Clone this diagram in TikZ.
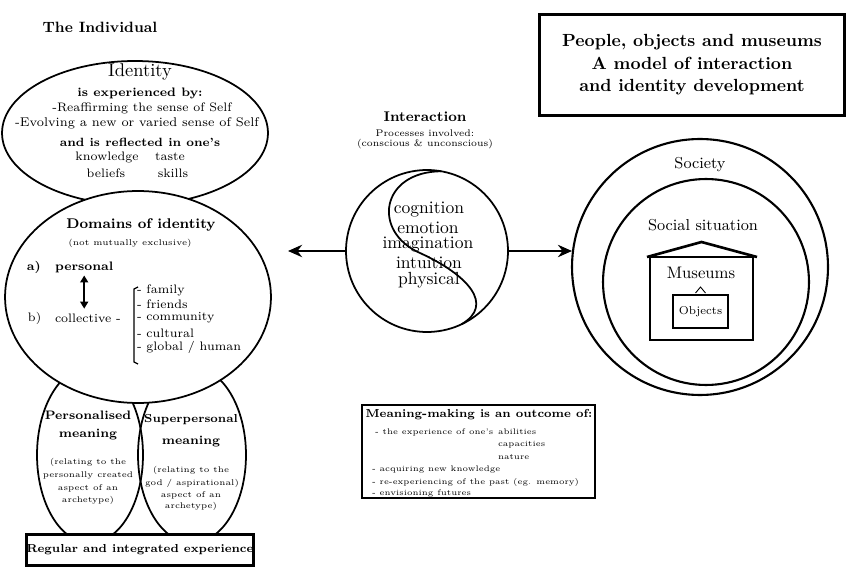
\documentclass[tikz,border=0pt]{standalone}
\usepackage{tikz}
\usetikzlibrary{shapes.geometric,arrows.meta,calc,positioning}
\newcommand{\sz}[1]{\fontsize{#1}{#1}\selectfont}

\begin{document}
\begin{tikzpicture}[x=0.02cm, y=-0.02cm,
	every node/.style={inner sep=0pt, outer sep=0pt},
	oval/.style={ellipse, draw, line width=1pt},
	framebox/.style={rectangle, draw, line width=1.2pt},
	bigarrow/.style={line width=1.6pt, -{Stealth[length=8pt,width=7pt]}},
	dblarrow/.style={line width=1pt, {Triangle[length=4pt,width=4.5pt]}-{Triangle[length=4pt,width=4.5pt]}},
	txt/.style={font=\sz{7}},
	btxt/.style={font=\sz{7}\bfseries},
	small/.style={font=\sz{4.7}},
	item/.style={font=\sz{4.6}, anchor=west},
	word/.style={font=\sz{10}}]
	\useasboundingbox (0,0) rectangle (855,567);
	\node[oval, minimum width=2.12cm, minimum height=3.52cm] (persoval) at (90,455) {};
	\node[oval, minimum width=2.16cm, minimum height=3.52cm] (superoval) at (192,455) {};
	\node[oval, minimum width=5.32cm, minimum height=2.88cm] (identity) at (135,133) {};
	\node[oval, fill=white, minimum width=5.32cm, minimum height=4.24cm] (domains) at (138,297) {};
	\node[framebox, fill=white, minimum width=4.5cm, minimum height=0.62cm, font=\sz{6.6}\bfseries] (regular) at (140,550) {Regular and integrated experience};
	\node[font=\sz{8.5}\bfseries] (individual) at (100,27) {The Individual};
	\node[font=\sz{10.5}] (idtitle) at (140,72) {Identity};
	\node[btxt] (idexp) at (140,93) {is experienced by:};
	\node[txt] (idreaff) at (142,108) {-Reaffirming the sense of Self};
	\node[font=\sz{7.2}] (idevolve) at (137,123) {-Evolving a new or varied sense of Self};
	\node[font=\sz{6.8}\bfseries] (idrefl) at (140,142) {and is reflected in one's};
	\node[txt] (knowledge) at (107,157) {knowledge};
	\node[txt] (taste) at (170,157) {taste};
	\node[txt] (beliefs) at (106,173) {beliefs};
	\node[txt] (skills) at (173,173) {skills};
	\node[font=\sz{8}\bfseries] (domtitle) at (141,225) {Domains of identity};
	\node[font=\sz{4.8}] (domnote) at (130,243) {(not mutually exclusive)};
	\node[btxt, anchor=west] (alabel) at (27,267) {a)};
	\node[btxt, anchor=west] (personal) at (55,267) {personal};
	\node[txt, anchor=west] (blabel) at (28,318) {b)};
	\node[txt, anchor=west] (collective) at (55,318) {collective -};
	\draw[dblarrow] ([yshift=-0.06cm]personal.south) -- ([yshift=0.1cm]personal.south |- collective.north);
	\draw[line width=0.7pt] (138,287) -- (134,289) -- (134,362) -- (138,364);
	\node[txt, anchor=west] (family) at (137,290) {- family};
	\node[txt, anchor=west] (friends) at (137,304) {- friends};
	\node[txt, anchor=west] (community) at (137,318) {- community};
	\node[txt, anchor=west] (cultural) at (137,333) {- cultural};
	\node[txt, anchor=west] (global) at (137,347) {- global / human};
	\node[btxt] (perstitle) at (88,415) {Personalised};
	\node[btxt] (persmean) at (88,435) {meaning};
	\node[small] (persrel) at (88,462) {(relating to the};
	\node[small] (perscre) at (88,475) {personally created};
	\node[small] (persasp) at (88,488) {aspect of an};
	\node[small] (persarch) at (88,500) {archetype)};
	\node[font=\sz{6.6}\bfseries] (supertitle) at (191,420) {Superpersonal};
	\node[btxt] (supermean) at (191,442) {meaning};
	\node[small] (superrel) at (191,470) {(relating to the};
	\node[small] (supergod) at (192,483) {god / aspirational)};
	\node[small] (superasp) at (191,495) {aspect of an};
	\node[small] (superarch) at (191,506) {archetype)};
	\node[font=\sz{8}\bfseries] (inttitle) at (425,117) {Interaction};
	\node[font=\sz{5.5}] (intproc) at (425,133) {Processes involved:};
	\node[font=\sz{5.5}] (intcons) at (425,144) {(conscious \& unconscious)};
	\node[circle, draw, line width=1pt, minimum size=3.24cm] (interact) at (427,251) {};
	\draw[line width=1pt] (interact.80) .. controls (380,172) and (372,232) .. (420,253) .. controls (468,275) and (495,305) .. (interact.-65);
	\node[word] (cognition) at (429,210) {cognition};
	\node[word] (emotion) at (428,227.5) {emotion};
	\node[word] (imagination) at (428,245) {imagination};
	\node[word] (intuition) at (429,262.5) {intuition};
	\node[word] (physical) at (429,280) {physical};
	\node[circle, draw, line width=1.2pt, minimum size=5.12cm] (society) at (700,267) {};
	\node[circle, draw, line width=1.2pt, minimum size=4.12cm] (social) at (706,282) {};
	\coordinate (leftend) at (288,251);
	\draw[bigarrow] (interact.west) -- (leftend);
	\draw[bigarrow] (interact.east) -- (interact.east -| society.west);
	\node[font=\sz{9}] (soctitle) at (700,165) {Society};
	\node[font=\sz{9}] (socsit) at (703,225) {Social situation};
	\node[framebox, line width=1pt, minimum width=2.06cm, minimum height=1.66cm] (museum) at (701.5,298.5) {};
	\draw[line width=1.5pt] ($(museum.north west)+(-3,0)$) -- ($(museum.north)+(0,-15)$) -- ($(museum.north east)+(4,0)$);
	\node[font=\sz{9.5}] (museumlbl) at (701,273) {Museums};
	\node[draw, line width=0.8pt, minimum width=1.1cm, minimum height=0.66cm, font=\sz{6.5}] (objects) at (700.5,311.5) {Objects};
	\draw[line width=0.5pt] ($(objects.north)+(-5,-2)$) -- ($(objects.north)+(0,-8)$) -- ($(objects.north)+(5,-2)$);
	\node[framebox, minimum width=6.1cm, minimum height=2.02cm, align=center, font=\fontsize{10}{12.8}\selectfont\bfseries] (title) at (692,65) {People, objects and museums\\A model of interaction\\and identity development};
	\node[framebox, minimum width=4.66cm, minimum height=1.86cm] (meaning) at (478.5,451.5) {};
	\node[font=\sz{6.6}\bfseries] (meantitle) at (479,415) {Meaning-making is an outcome of:};
	\node[item] (mexp) at (375,432) {- the experience of one's};
	\node[item] (mabil) at (498,432) {abilities};
	\node[item] (mcap) at (498,445) {capacities};
	\node[item] (mnat) at (498,457) {nature};
	\node[item] (macq) at (372,470) {- acquiring new knowledge};
	\node[item] (mre) at (372,482) {- re-experiencing of the past (eg. memory)};
	\node[item] (menv) at (372,493) {- envisioning futures};
\end{tikzpicture}
\end{document}
